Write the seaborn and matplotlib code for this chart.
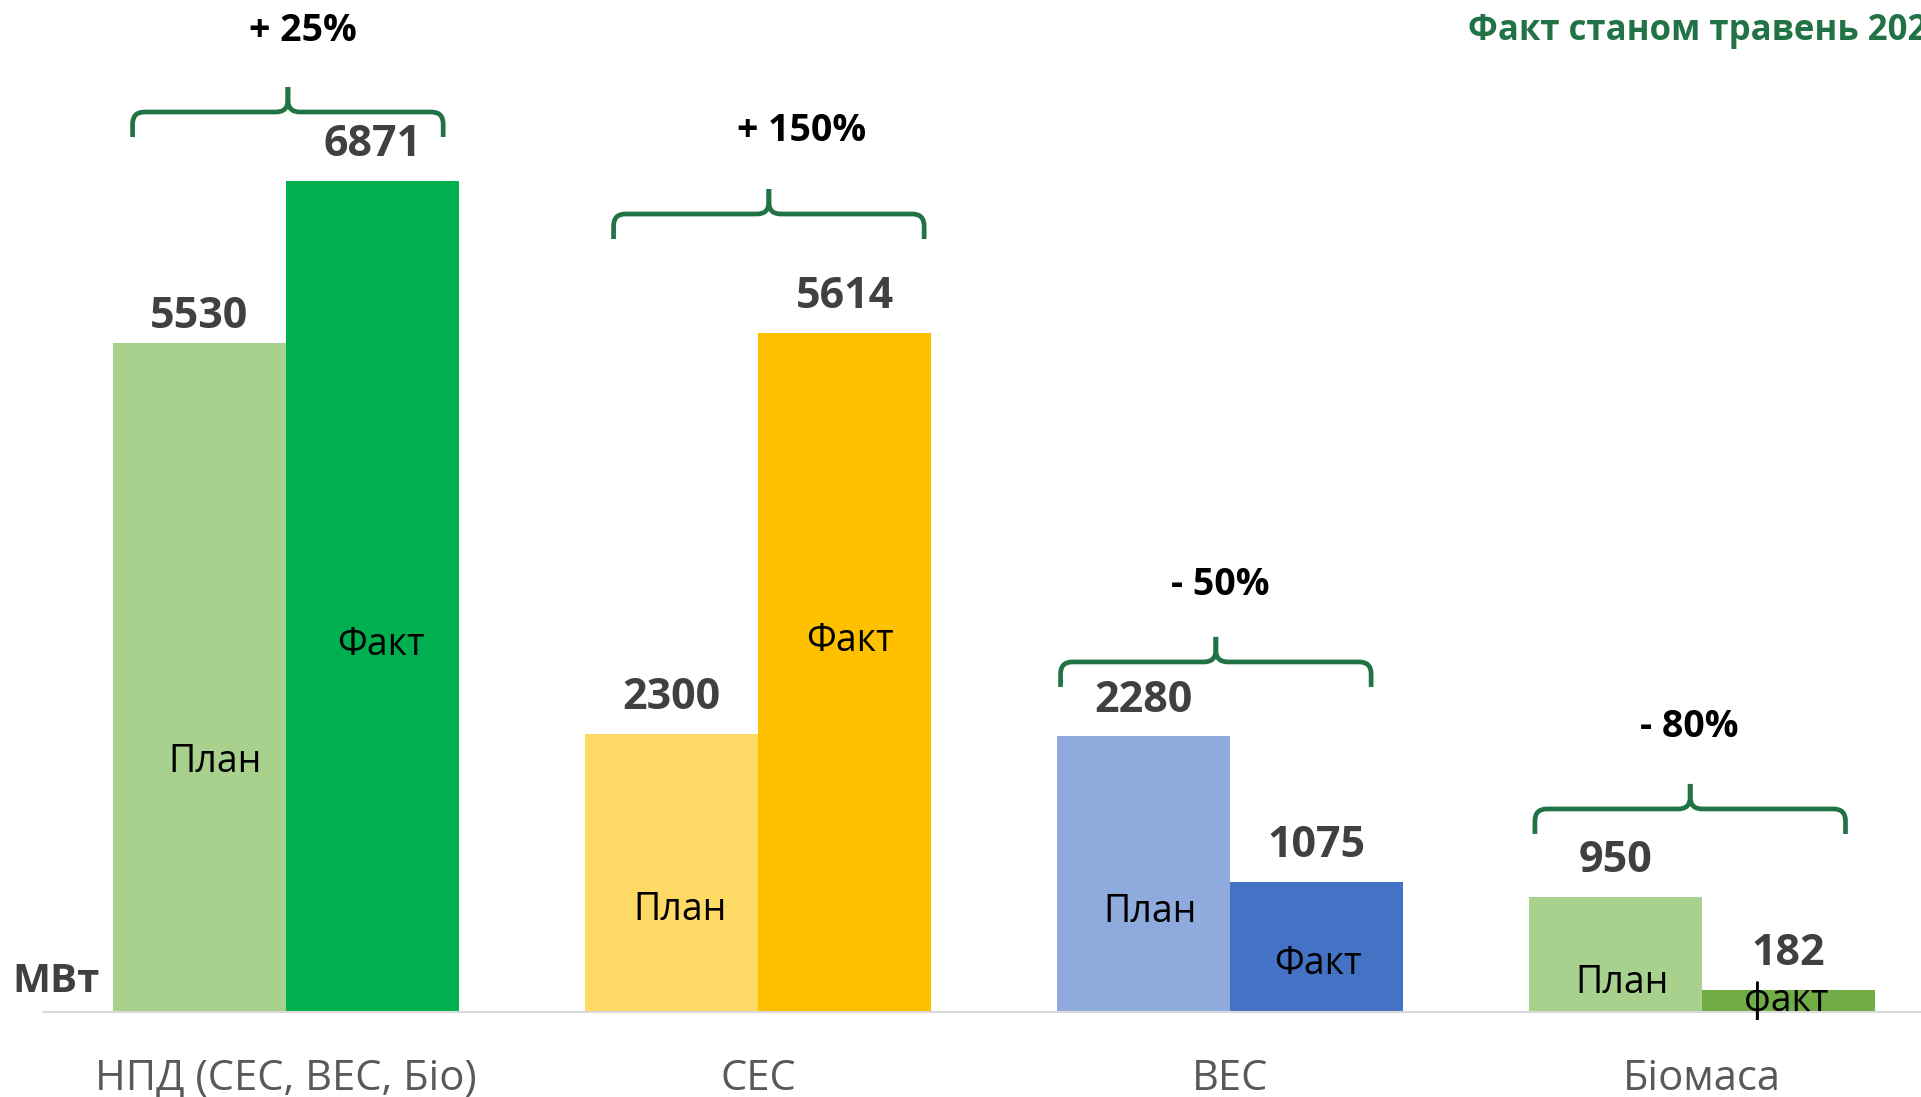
import matplotlib
matplotlib.use('Agg')
import matplotlib.pyplot as plt
import pandas as pd
import seaborn as sns
from matplotlib.path import Path
from matplotlib.patches import PathPatch

# Дані
groups = ['НПД (СЕС, ВЕС, Біо)', 'СЕС', 'ВЕС', 'Біомаса']
plan = [5530, 2300, 2280, 950]
fact = [6871, 5614, 1075, 182]
changes = ['+ 25%', '+ 150%', '- 50%', '- 80%']
plan_names = ['План', 'План', 'План', 'План']
fact_names = ['Факт', 'Факт', 'Факт', 'факт']
title = 'Факт станом травень 2021'
unit = 'МВт'

# Кольори
plan_colors = ['#A9D18E', '#FFD966', '#8FAADC', '#A9D18E']
fact_colors = ['#00B050', '#FFC000', '#4472C4', '#70AD47']
green = '#217346'

# Розмітка (в одиницях осей)
PX_CAT = 472.0      # пікселів на категорію
PX_MW = 0.121       # пікселів на МВт
plan_lbl_pos = [(0.034, 2070), (0.019, 846), (0.015, 830), (0.015, 243)]
fact_lbl_pos = [(0.017, 3036), (0.011, 3069), (0.002, 400), (-0.004, 90)]
plan_val_off = [19, 26, 26, 26]
fact_val_off = [26, 26, 26, 26]
brace_pos = [(0.004, 7438), (1.023, 6595), (1.970, 2893), (2.975, 1678)]
change_pos = [(0.036, 8110), (1.093, 7284), (1.979, 3532), (2.972, 2358)]

sns.set_style('white')
plt.rcParams['font.family'] = ['Open Sans', 'DejaVu Sans']

df = pd.DataFrame({
    'group': groups * 2,
    'kind': ['План'] * 4 + ['Факт'] * 4,
    'value': plan + fact,
})

fig = plt.figure(figsize=(19.21, 10.97), dpi=100)
ax = fig.add_axes([43 / 1921, 85 / 1097, 1 - 43 / 1921, 1012 / 1097])

sns.barplot(data=df, x='group', y='value', hue='kind', hue_order=['План', 'Факт'],
            order=groups, width=0.734, gap=0, saturation=1, legend=False,
            errorbar=None, ax=ax)

for bars, colors in zip(ax.containers, [plan_colors, fact_colors]):
    for bar, c in zip(bars, colors):
        bar.set_facecolor(c)
        bar.set_edgecolor('none')

ax.set_xlim((43 - 286) / PX_CAT, (1921 - 286) / PX_CAT)
ax.set_ylim(0, 1012 / PX_MW)

# Підписи значень над стовпцями
for bars, vals, offs in zip(ax.containers, [plan, fact], [plan_val_off, fact_val_off]):
    for bar, v, off in zip(bars, vals, offs):
        xc = bar.get_x() + bar.get_width() / 2
        ax.annotate(str(v), (xc, v), xytext=(0, off), textcoords='offset points',
                    ha='center', va='center', fontsize=31, fontweight='bold', color='#404040')

# Назви План / Факт всередині стовпців
for bars, names, pos in zip(ax.containers, [plan_names, fact_names], [plan_lbl_pos, fact_lbl_pos]):
    for bar, name, (dx, y) in zip(bars, names, pos):
        xc = bar.get_x() + bar.get_width() / 2
        ax.text(xc + dx, y, name, ha='center', va='center', fontsize=27, color='black')


def brace(ax, xc, yh, half=0.329, color=green):
    dx = 1 / PX_CAT
    dy = 1 / PX_MW
    r = 12
    for s in (-1, 1):
        end = xc + s * half
        verts = [(end, yh - 25 * dy), (end, yh - r * dy), (end, yh), (end - s * r * dx, yh),
                 (xc + s * r * dx, yh), (xc, yh), (xc, yh + r * dy), (xc, yh + 25 * dy)]
        codes = [Path.MOVETO, Path.LINETO, Path.CURVE3, Path.CURVE3,
                 Path.LINETO, Path.CURVE3, Path.CURVE3, Path.LINETO]
        ax.add_patch(PathPatch(Path(verts, codes), fill=False, edgecolor=color, lw=3.4,
                               capstyle='butt', joinstyle='round', clip_on=False))


for (bx, by), txt, (tx, ty) in zip(brace_pos, changes, change_pos):
    brace(ax, bx, by)
    ax.text(tx, ty, txt, ha='center', va='center', fontsize=27, fontweight='bold', color='black')

# Оформлення осей
ax.set_xlabel('')
ax.set_ylabel('')
ax.set_yticks([])
for side in ['left', 'right', 'top']:
    ax.spines[side].set_visible(False)
ax.spines['bottom'].set_color('#D9D9D9')
ax.spines['bottom'].set_linewidth(1.5)
ax.tick_params(axis='x', length=0, pad=33, labelsize=30, labelcolor='#595959')

fig.text(12 / 1921, 1 - 982 / 1097, unit, ha='left', va='center', fontsize=29,
         fontweight='bold', color='#404040')
fig.text(1468 / 1921, 1 - 31 / 1097, title, ha='left', va='center', fontsize=25,
         fontweight='bold', color=green)

fig.savefig('out.png', dpi=100)
